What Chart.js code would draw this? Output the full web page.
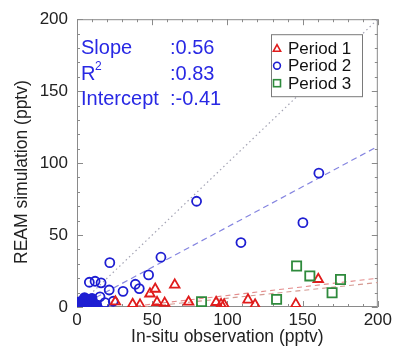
<!DOCTYPE html>
<html>
<head>
<meta charset="utf-8">
<script src="https://cdn.jsdelivr.net/npm/chart.js@4.4.1/dist/chart.umd.min.js"></script>
<style>
html,body{margin:0;padding:0;background:#fff;}
#wrap{width:395px;height:347px;}
</style>
</head>
<body>
<div id="wrap"><canvas id="c" width="395" height="347"></canvas></div>
<script>
// ---- data ----
const tickValues = [0, 50, 100, 150, 200];
const xTitle = 'In-situ observation (pptv)';
const yTitle = 'REAM simulation (pptv)';
const seriesNames = ['Period 1', 'Period 2', 'Period 3'];

const p1x = [25.5, 37, 41.9, 48.5, 52, 65, 53.2, 58.3, 74.2, 92.5, 95.8, 97.8, 113.7, 118.4, 145.5, 160.4];
const p1y = [3.7, 1.9, 1.5, 9.2, 12.5, 15.4, 3.3, 2.7, 3.5, 3.3, 1.8, 1.6, 5, 1.6, 2, 19.3];

const p2x = [79.5, 160.8, 150.2, 109, 55.8, 21.8, 47.6, 38.8, 41.4, 30.6, 21.4, 16, 12, 8.2, 15.3, 18.6, 24.1,
             1, 2, 3, 4, 5, 6, 7, 8, 9, 10, 11, 12, 3, 6, 2, 8, 5, 10, 13, 1.5];
const p2y = [73.5, 93, 58.6, 44.8, 34.6, 30.8, 22.3, 15.8, 12.8, 10.9, 11.8, 16.8, 17.9, 17.2, 7.1, 3, 4,
             1, 0.5, 2, 0.3, 1.5, 3, 0.5, 2, 4, 1, 2.5, 0.5, 4, 5.5, 2.5, 5, 6.5, 6, 1.5, 3.5];

const p3x = [82.8, 132.7, 146, 154.8, 169.6, 175.2];
const p3y = [3.7, 5.3, 28.5, 21.6, 9.9, 19.1];

const fitAllX = [0.73, 200];
const fitAllY = [0, 111.6];
const fitP1X = [33.3, 200];
const fitP1Y = [0, 20];
const fitP3X = [44, 200];
const fitP3Y = [0, 17];
const oneToOneX = [0, 200];
const oneToOneY = [0, 200];

const statLabels = ['Slope', 'R', 'Intercept'];
const statValues = [':0.56', ':0.83', ':-0.41'];

// ---- helpers ----
const pts = (xs, ys) => xs.map((x, i) => ({x: x, y: ys[i]}));
const FONT = '"Liberation Sans", Arial, Helvetica, sans-serif';
const RED = '#e01c1c', BLUE = '#1e1ed2', GREEN = '#2e8a3c', TXTBLUE = '#2828e4';
const NONE = 'rgba(0,0,0,0)';

const frameTicks = {
  id: 'frameTicks',
  beforeDatasetsDraw(chart) {
    const {ctx, chartArea: a, scales: {x, y}} = chart;
    ctx.save();
    ctx.strokeStyle = '#8a8a8a';
    ctx.lineWidth = 1;
    ctx.strokeRect(a.left + 0.5, a.top + 0.5, a.right - a.left - 1, a.bottom - a.top - 1);
    ctx.beginPath();
    for (let v = 0; v <= 200; v += 10) {
      const len = (v % 50 === 0) ? 6 : 3;
      const px = Math.round(x.getPixelForValue(v)) + 0.5;
      ctx.moveTo(px, a.bottom); ctx.lineTo(px, a.bottom - len);
      ctx.moveTo(px, a.top); ctx.lineTo(px, a.top + len);
      const py = Math.round(y.getPixelForValue(v)) + 0.5;
      ctx.moveTo(a.left, py); ctx.lineTo(a.left + len, py);
      ctx.moveTo(a.right, py); ctx.lineTo(a.right - len, py);
    }
    ctx.stroke();
    // y axis title (drawn manually to match vertical placement)
    ctx.fillStyle = '#222';
    ctx.font = '17.5px ' + FONT;
    ctx.textAlign = 'center';
    ctx.textBaseline = 'middle';
    ctx.translate(22, (a.top + a.bottom) / 2 + 9);
    ctx.rotate(-Math.PI / 2);
    ctx.fillText(yTitle, 0, 0);
    ctx.restore();
  },
  afterDatasetsDraw(chart) {
    const {ctx, chartArea: a} = chart;
    ctx.save();
    // statistics text
    ctx.fillStyle = TXTBLUE;
    ctx.font = '20px ' + FONT;
    ctx.textBaseline = 'alphabetic';
    ctx.textAlign = 'left';
    const baseY = [a.top + 35, a.top + 61, a.top + 86];
    statLabels.forEach((s, i) => {
      ctx.fillText(s, a.left + 4, baseY[i]);
      ctx.fillText(statValues[i], a.left + 93, baseY[i]);
    });
    ctx.font = '12px ' + FONT;
    ctx.fillText('2', a.left + 18, baseY[1] - 10);

    // legend
    const lx = a.left + 194, ly = a.top + 15, lw = 91, lh = 62;
    ctx.fillStyle = '#fff';
    ctx.fillRect(lx, ly, lw, lh);
    ctx.strokeStyle = '#7a7a7a';
    ctx.lineWidth = 1;
    ctx.strokeRect(lx + 0.5, ly + 0.5, lw, lh);
    const rows = [ly + 14.5, ly + 31.5, ly + 49];
    const mx = lx + 6;
    ctx.lineWidth = 1.6;
    ctx.strokeStyle = RED;
    ctx.beginPath();
    ctx.moveTo(mx, rows[0] - 4); ctx.lineTo(mx + 3.6, rows[0] + 2.5); ctx.lineTo(mx - 3.6, rows[0] + 2.5); ctx.closePath();
    ctx.stroke();
    ctx.strokeStyle = BLUE;
    ctx.beginPath(); ctx.arc(mx, rows[1], 3.4, 0, Math.PI * 2); ctx.stroke();
    ctx.strokeStyle = GREEN;
    ctx.strokeRect(mx - 3.5, rows[2] - 3.5, 7, 7);
    ctx.fillStyle = '#111';
    ctx.font = '17px ' + FONT;
    ctx.textBaseline = 'middle';
    seriesNames.forEach((n, i) => ctx.fillText(n, lx + 17, rows[i] + 1));
    ctx.restore();
  }
};

const lineDs = (xs, ys, color, dash, w) => ({
  type: 'line', data: pts(xs, ys), borderColor: color, borderWidth: w,
  borderDash: dash, pointRadius: 0, fill: false, showLine: true, clip: 0
});

// dense overlapping markers near origin render as a solid mass
const clusterFill = c => (c.raw && c.raw.x < 13.5 && c.raw.y < 7) ? BLUE : NONE;

new Chart(document.getElementById('c'), {
  type: 'scatter',
  data: {
    datasets: [
      {label: seriesNames[0], data: pts(p1x, p1y), pointStyle: 'triangle', pointRadius: 5.5,
       borderColor: RED, backgroundColor: NONE, pointBorderWidth: 1.8, clip: 0, order: 1},
      {label: seriesNames[1], data: pts(p2x, p2y), pointStyle: 'circle', pointRadius: 4.5,
       borderColor: BLUE, backgroundColor: clusterFill, pointBackgroundColor: clusterFill,
       pointBorderWidth: 1.8, clip: 0, order: 2},
      {label: seriesNames[2], data: pts(p3x, p3y), pointStyle: 'rect', pointRadius: 6.5,
       borderColor: GREEN, backgroundColor: NONE, pointBorderWidth: 1.8, clip: 0, order: 0},
      Object.assign(lineDs(oneToOneX, oneToOneY, '#a4a4b4', [1.5, 3], 1.2), {order: 5}),
      Object.assign(lineDs(fitAllX, fitAllY, '#8585e0', [6, 4], 1.2), {order: 4}),
      Object.assign(lineDs(fitP1X, fitP1Y, '#e48a8a', [5, 4], 1.1), {order: 4}),
      Object.assign(lineDs(fitP3X, fitP3Y, '#d49a92', [5, 4], 1.1), {order: 4})
    ]
  },
  options: {
    responsive: false,
    animation: false,
    events: [],
    layout: {padding: {top: 17, right: 17, left: 0, bottom: 0}},
    plugins: {legend: {display: false}, tooltip: {enabled: false}},
    scales: {
      x: {
        type: 'linear', min: 0, max: 200,
        afterBuildTicks: s => { s.ticks = tickValues.map(v => ({value: v})); },
        afterFit: s => { s.height = 40; },
        grid: {display: false, drawTicks: false},
        border: {display: false},
        ticks: {color: '#222', font: {family: FONT, size: 17}, padding: 3, maxRotation: 0},
        title: {display: true, text: xTitle, color: '#222', font: {family: FONT, size: 17.5}, padding: {top: 0, bottom: -1}}
      },
      y: {
        type: 'linear', min: 0, max: 200,
        afterBuildTicks: s => { s.ticks = tickValues.map(v => ({value: v})); },
        afterFit: s => { s.width = 77; },
        grid: {display: false, drawTicks: false},
        border: {display: false},
        ticks: {color: '#222', font: {family: FONT, size: 17}, padding: 9},
        title: {display: false}
      }
    }
  },
  plugins: [frameTicks]
});
</script>
</body>
</html>
